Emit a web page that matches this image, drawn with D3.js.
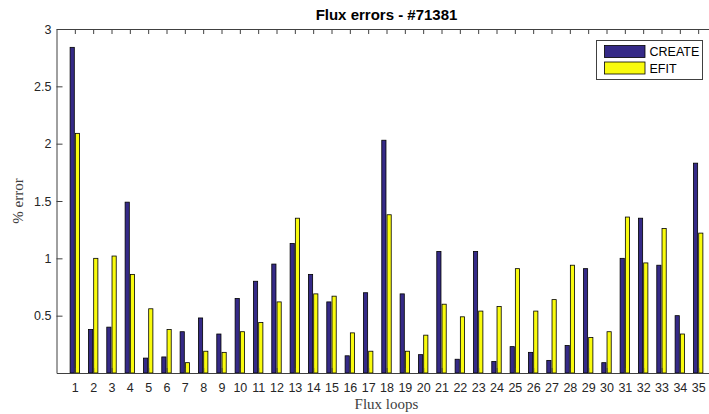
<!DOCTYPE html>
<html>
<head>
<meta charset="utf-8">
<script src="https://cdn.jsdelivr.net/npm/d3@7"></script>
<style>
    body { margin: 0; background: #fff; }
    .axis text { font-family: "Liberation Sans", Arial, sans-serif; font-size: 12.5px; fill: #262626; }
    .axis line, .axis path { stroke: #404040; }
    .axis-title { font-family: "Liberation Serif", "DejaVu Serif", serif; font-size: 15px; fill: #404040; }
    .legend text { font-family: "Liberation Sans", Arial, sans-serif; font-size: 12.5px; fill: #000; }
</style>
</head>
<body>
<div id="chart-area"></div>
<script>
// flux loop numbers (x tick labels)
const loops = d3.range(1, 36);
const yTicks = [0.5, 1, 1.5, 2, 2.5, 3];
const seriesNames = ["CREATE", "EFIT"];
const seriesColors = ["#352a87", "#f9fb0e"];

// % error per loop
const createErr = [2.84, 0.38, 0.40, 1.49, 0.13, 0.14, 0.36, 0.48, 0.34, 0.65,
    0.80, 0.95, 1.13, 0.86, 0.62, 0.15, 0.70, 2.03, 0.69, 0.16,
    1.06, 0.12, 1.06, 0.10, 0.23, 0.18, 0.11, 0.24, 0.91, 0.09,
    1.00, 1.35, 0.94, 0.50, 1.83];
const efitErr = [2.09, 1.00, 1.02, 0.86, 0.56, 0.38, 0.09, 0.19, 0.18, 0.36,
    0.44, 0.62, 1.35, 0.69, 0.67, 0.35, 0.19, 1.38, 0.19, 0.33,
    0.60, 0.49, 0.54, 0.58, 0.91, 0.54, 0.64, 0.94, 0.31, 0.36,
    1.36, 0.96, 1.26, 0.34, 1.22];

const WIDTH = 709, HEIGHT = 414;
const PLOT = { LEFT: 56.5, RIGHT: 716.5, TOP: 29, BOTTOM: 373 };

const svg = d3.select("#chart-area").append("svg")
    .attr("width", WIDTH)
    .attr("height", HEIGHT);

// scales
const x = d3.scaleLinear().domain([0, 36]).range([PLOT.LEFT, PLOT.RIGHT]);
const y = d3.scaleLinear().domain([0, 3]).range([PLOT.BOTTOM, PLOT.TOP]);

// grouped bar geometry (matlab style): offset and width in loop units
const offset = [-0.143, 0.143];
const barW = 0.229;

const series = [createErr, efitErr];
series.forEach((vals, s) => {
    svg.append("g")
        .selectAll("rect")
        .data(vals)
        .enter().append("rect")
        .attr("x", (d, i) => x(loops[i] + offset[s] - barW / 2))
        .attr("y", d => y(d))
        .attr("width", x(barW) - x(0))
        .attr("height", d => y(0) - y(d))
        .attr("fill", seriesColors[s])
        .attr("stroke", "#000")
        .attr("stroke-width", 0.8);
});

// axes, ticks pointing inward
svg.append("g")
    .attr("class", "axis")
    .attr("transform", `translate(0, ${PLOT.BOTTOM})`)
    .call(d3.axisBottom(x).tickValues(loops).tickSizeInner(-5).tickSizeOuter(0).tickPadding(10));
svg.append("g")
    .attr("class", "axis")
    .attr("transform", `translate(0, ${PLOT.TOP})`)
    .call(d3.axisTop(x).tickValues(loops).tickSizeInner(-5).tickSizeOuter(0).tickFormat(""));
svg.append("g")
    .attr("class", "axis")
    .attr("transform", `translate(${PLOT.LEFT}, 0)`)
    .call(d3.axisLeft(y).tickValues(yTicks).tickFormat(d3.format("~g"))
        .tickSizeInner(-6).tickSizeOuter(0).tickPadding(5));
svg.append("g")
    .attr("class", "axis")
    .attr("transform", `translate(${PLOT.RIGHT}, 0)`)
    .call(d3.axisRight(y).tickValues(yTicks).tickSizeInner(-6).tickSizeOuter(0).tickFormat(""));

// title + labels
svg.append("text")
    .attr("x", (PLOT.LEFT + PLOT.RIGHT) / 2)
    .attr("y", 20)
    .attr("text-anchor", "middle")
    .attr("font-family", "Liberation Sans, Arial, sans-serif")
    .attr("font-size", "15px")
    .attr("font-weight", "bold")
    .attr("fill", "#000")
    .text("Flux errors - #71381");

svg.append("text")
    .attr("class", "axis-title")
    .attr("x", (PLOT.LEFT + PLOT.RIGHT) / 2)
    .attr("y", 409)
    .attr("text-anchor", "middle")
    .text("Flux loops");

svg.append("text")
    .attr("class", "axis-title")
    .attr("transform", `translate(23, ${(PLOT.TOP + PLOT.BOTTOM) / 2}) rotate(-90)`)
    .attr("text-anchor", "middle")
    .text("% error");

// legend
const legend = svg.append("g").attr("class", "legend");
legend.append("rect")
    .attr("x", 596.5).attr("y", 40.5)
    .attr("width", 106).attr("height", 39)
    .attr("fill", "#fff")
    .attr("stroke", "#404040");
seriesNames.forEach((name, i) => {
    legend.append("rect")
        .attr("x", 604.5).attr("y", 45.5 + i * 16.5)
        .attr("width", 40.5).attr("height", 12)
        .attr("fill", seriesColors[i])
        .attr("stroke", "#000")
        .attr("stroke-width", 0.8);
    legend.append("text")
        .attr("x", 649.5).attr("y", 56 + i * 16.5)
        .text(name);
});
</script>
</body>
</html>
